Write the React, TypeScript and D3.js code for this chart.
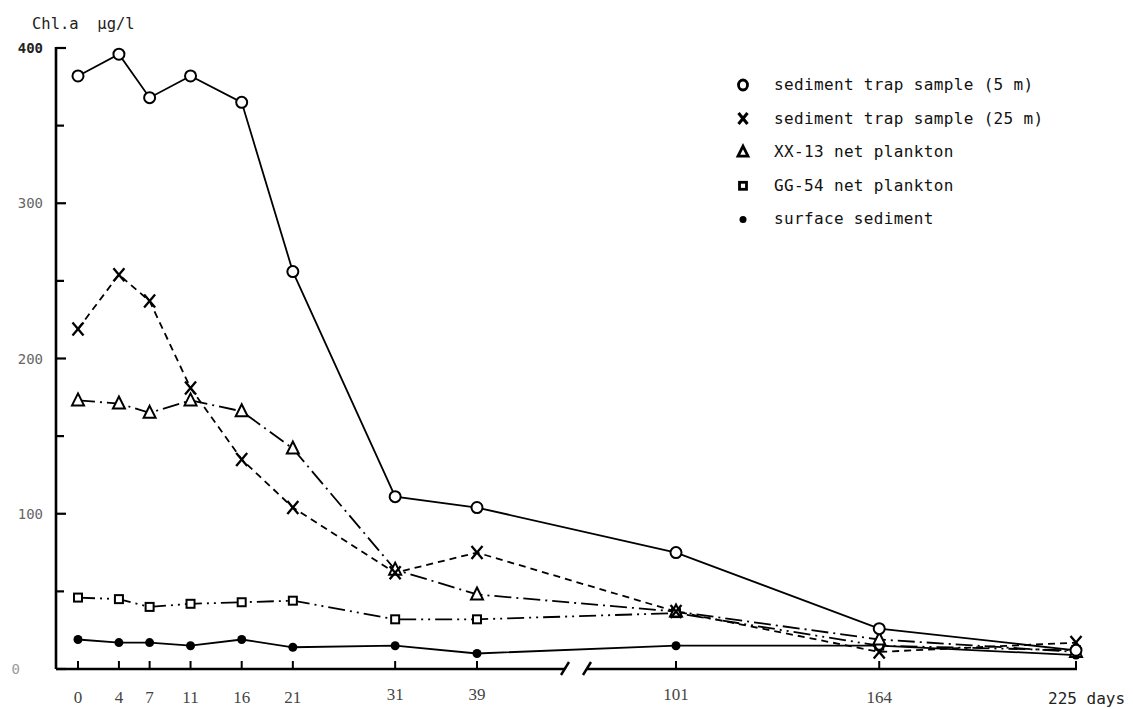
import React from "react";
import * as d3 from "d3";

// Sampling days (broken axis between 39 and 101)
const days = [0, 4, 7, 11, 16, 21, 31, 39, 101, 164, 225];

// Chl.a concentration (µg/l) per series
const trap5m = [382, 396, 368, 382, 365, 256, 111, 104, 75, 26, 12];
const trap25m = [219, 254, 237, 181, 135, 104, 62, 75, 37, 11, 17];
const xx13 = [173, 171, 165, 173, 166, 142, 64, 48, 37, 19, 11];
const gg54 = [46, 45, 40, 42, 43, 44, 32, 32, 36, 15, 12];
const surface = [19, 17, 17, 15, 19, 14, 15, 10, 15, 15, 9];

const yTicks = [0, 100, 200, 300, 400];
const yMinorTicks = [50, 150, 250, 350];

const legendLabels = [
  "sediment trap sample (5 m)",
  "sediment trap sample (25 m)",
  "XX-13 net plankton",
  "GG-54 net plankton",
  "surface sediment",
];

type Shape = "circle" | "cross" | "triangle" | "square" | "dot";

const series: { values: number[]; shape: Shape; dash: string | null }[] = [
  { values: surface, shape: "dot", dash: null },
  { values: gg54, shape: "square", dash: "17,5,2,5,2,5" },
  { values: xx13, shape: "triangle", dash: "17,5,2,5" },
  { values: trap25m, shape: "cross", dash: "7,5" },
  { values: trap5m, shape: "circle", dash: null },
];

const W = 1133;
const H = 709;
const axisX = 56;
const axisY = 669;
const breakA = 565;
const breakB = 587;

const mono = "'DejaVu Sans Mono', 'Liberation Mono', monospace";
const serif = "'Liberation Serif', 'DejaVu Serif', serif";

function Marker({ shape, x, y, legend = false }: { shape: Shape; x: number; y: number; legend?: boolean }) {
  const sw = legend ? 2.8 : 2;
  switch (shape) {
    case "circle":
      return legend ? (
        <ellipse cx={x} cy={y} rx={4.5} ry={5} fill="#fff" stroke="#000" strokeWidth={sw} />
      ) : (
        <circle cx={x} cy={y} r={5.5} fill="#fff" stroke="#000" strokeWidth={sw} />
      );
    case "cross": {
      const s = legend ? 4.5 : 5.5;
      return (
        <g stroke="#000" strokeWidth={sw + 0.3} strokeLinecap="butt">
          <line x1={x - s} y1={y - s - 1} x2={x + s} y2={y + s + 1} />
          <line x1={x + s} y1={y - s - 1} x2={x - s} y2={y + s + 1} />
        </g>
      );
    }
    case "triangle": {
      const s = legend ? 5 : 6;
      return (
        <path
          d={`M${x},${y - s - 1}L${x + s},${y + s - 1}L${x - s},${y + s - 1}Z`}
          fill="#fff"
          stroke="#000"
          strokeWidth={sw}
          strokeLinejoin="miter"
        />
      );
    }
    case "square": {
      const s = legend ? 3.5 : 4;
      return <rect x={x - s} y={y - s} width={2 * s} height={2 * s} fill="#fff" stroke="#000" strokeWidth={sw} />;
    }
    case "dot":
      return <circle cx={x} cy={y} r={legend ? 3.5 : 4.5} fill="#000" />;
  }
}

export default function App() {
  // Two linear pieces joined at the axis break
  const x = d3.scaleLinear().domain([0, 39, 101, 225]).range([78, 477, 676, 1076]);
  const y = d3.scaleLinear().domain([0, 400]).range([axisY, 48]);

  const line = d3
    .line<number>()
    .x((_, i) => x(days[i]))
    .y((v) => y(v));

  return (
    <svg
      width={W}
      height={H}
      viewBox={`0 0 ${W} ${H}`}
      style={{ position: "absolute", left: 0, top: 0, background: "#fff" }}
    >
      {/* Y axis */}
      <line x1={axisX} y1={y(400) - 1} x2={axisX} y2={axisY} stroke="#000" strokeWidth={2.6} />
      {[...yTicks, ...yMinorTicks].map((t) => (
        <line
          key={`yt${t}`}
          x1={axisX}
          x2={axisX + (t % 100 === 0 ? 10 : 8)}
          y1={y(t)}
          y2={y(t)}
          stroke="#000"
          strokeWidth={2.2}
        />
      ))}
      {yTicks.map((t) => (
        <text
          key={`yl${t}`}
          x={t === 0 ? 20 : 43}
          y={y(t) + 5}
          textAnchor="end"
          fontFamily={mono}
          fontSize={14}
          fontWeight={t === 400 ? 700 : 400}
          fill={t === 400 ? "#222" : t === 0 ? "#999" : "#666"}
        >
          {t}
        </text>
      ))}
      <text x={32} y={29} fontFamily={mono} fontSize={15.5} fill="#222">
        {"Chl.a\u00a0\u00a0µg/l"}
      </text>

      {/* X axis with break */}
      <line x1={axisX} y1={axisY} x2={breakA} y2={axisY} stroke="#000" strokeWidth={2.4} />
      <line x1={breakB} y1={axisY} x2={x(225) + 1} y2={axisY} stroke="#000" strokeWidth={2.4} />
      {[breakA, breakB].map((bx) => (
        <line key={`br${bx}`} x1={bx - 4} y1={axisY + 6} x2={bx + 4} y2={axisY - 7} stroke="#000" strokeWidth={2.4} />
      ))}
      {days.map((d) => (
        <line key={`xt${d}`} x1={x(d)} x2={x(d)} y1={axisY} y2={axisY - 8} stroke="#000" strokeWidth={2} />
      ))}
      {days.map((d) =>
        d === 225 ? (
          <text key={`xl${d}`} x={x(d) - 28} y={704} fontFamily={mono} fontSize={16} fill="#222">
            {`${d}\u00a0days`}
          </text>
        ) : (
          <text
            key={`xl${d}`}
            x={x(d)}
            y={d === 31 || d === 39 || d === 101 ? 700 : 703}
            textAnchor="middle"
            fontFamily={serif}
            fontSize={17}
            fill="#444"
          >
            {d}
          </text>
        )
      )}

      {/* Series lines */}
      {series.map((s, i) => (
        <path
          key={`ln${i}`}
          d={line(s.values) || ""}
          fill="none"
          stroke="#000"
          strokeWidth={1.8}
          strokeDasharray={s.dash || undefined}
        />
      ))}

      {/* Series markers */}
      {series.map((s, i) =>
        s.values.map((v, j) => <Marker key={`mk${i}-${j}`} shape={s.shape} x={x(days[j])} y={y(v)} />)
      )}

      {/* Legend */}
      {legendLabels.map((label, i) => {
        const shapes: Shape[] = ["circle", "cross", "triangle", "square", "dot"];
        const ly = 85 + i * 33.6;
        return (
          <g key={`lg${i}`}>
            <Marker shape={shapes[i]} x={743} y={ly} legend />
            <text
              x={774}
              y={ly + 5}
              fontFamily={mono}
              fontSize={16}
              letterSpacing={0.35}
              fill="#111"
            >
              {label}
            </text>
          </g>
        );
      })}
    </svg>
  );
}
